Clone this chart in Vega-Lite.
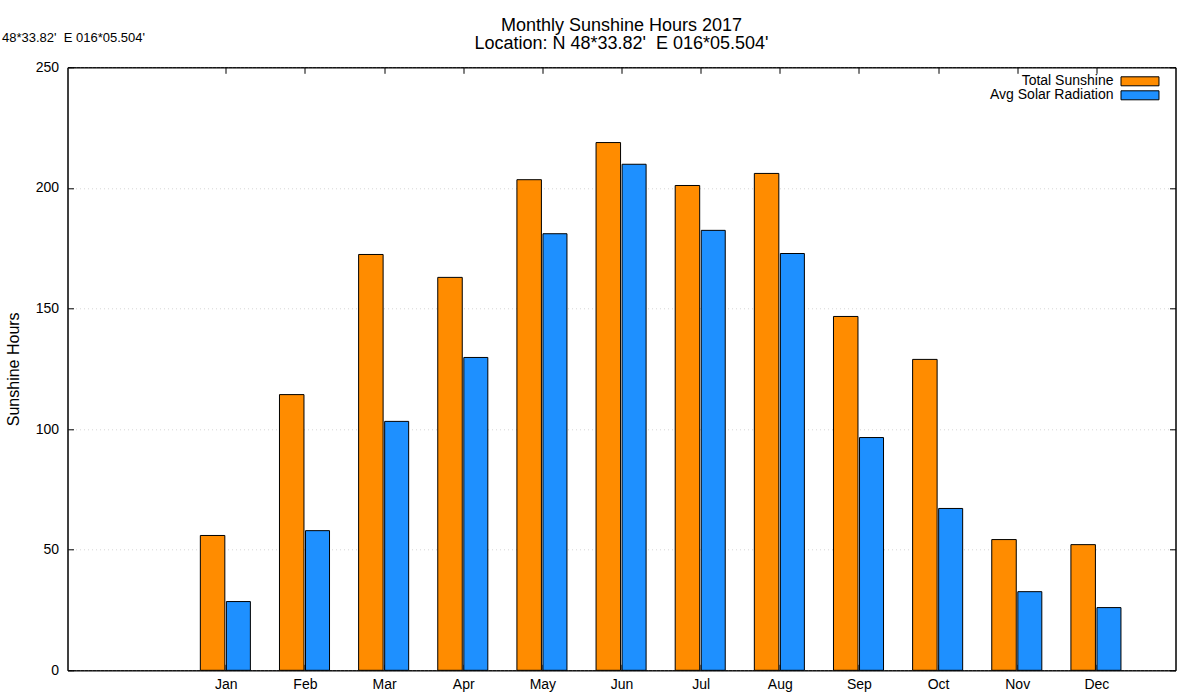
{
  "$schema": "https://vega.github.io/schema/vega-lite/v6.json",
  "width": 1108,
  "height": 603,
  "autosize": {"type": "none"},
  "padding": {"left": 67.5, "top": 67.3, "right": 24.5, "bottom": 29.7},
  "background": "white",
  "config": {
    "font": "Liberation Sans",
    "view": {"stroke": "black", "strokeWidth": 1},
    "axis": {
      "domainColor": "black",
      "tickColor": "black",
      "labelColor": "black",
      "titleColor": "black",
      "labelFontSize": 14,
      "titleFontSize": 16,
      "titleFontWeight": "normal",
      "tickSize": -6,
      "labelFlush": false,
      "labelOverlap": false
    }
  },
  "title": {
    "text": ["Monthly Sunshine Hours 2017", "Location: N 48*33.82'\u00a0 E 016*05.504'"],
    "fontSize": 18,
    "lineHeight": 18,
    "fontWeight": "normal",
    "color": "black",
    "anchor": "middle",
    "frame": "group",
    "dy": 25.5
  },
  "data": {
    "values": [
      {"month": 1, "series": "Total Sunshine", "hours": 55.9},
      {"month": 2, "series": "Total Sunshine", "hours": 114.3},
      {"month": 3, "series": "Total Sunshine", "hours": 172.4},
      {"month": 4, "series": "Total Sunshine", "hours": 162.9},
      {"month": 5, "series": "Total Sunshine", "hours": 203.4},
      {"month": 6, "series": "Total Sunshine", "hours": 218.8},
      {"month": 7, "series": "Total Sunshine", "hours": 201.0},
      {"month": 8, "series": "Total Sunshine", "hours": 206.0},
      {"month": 9, "series": "Total Sunshine", "hours": 146.7},
      {"month": 10, "series": "Total Sunshine", "hours": 128.9},
      {"month": 11, "series": "Total Sunshine", "hours": 54.2},
      {"month": 12, "series": "Total Sunshine", "hours": 52.1},
      {"month": 1, "series": "Avg Solar Radiation", "hours": 28.5},
      {"month": 2, "series": "Avg Solar Radiation", "hours": 57.9},
      {"month": 3, "series": "Avg Solar Radiation", "hours": 103.2},
      {"month": 4, "series": "Avg Solar Radiation", "hours": 129.7},
      {"month": 5, "series": "Avg Solar Radiation", "hours": 181.0},
      {"month": 6, "series": "Avg Solar Radiation", "hours": 209.8},
      {"month": 7, "series": "Avg Solar Radiation", "hours": 182.4},
      {"month": 8, "series": "Avg Solar Radiation", "hours": 172.8},
      {"month": 9, "series": "Avg Solar Radiation", "hours": 96.5},
      {"month": 10, "series": "Avg Solar Radiation", "hours": 67.1},
      {"month": 11, "series": "Avg Solar Radiation", "hours": 32.6},
      {"month": 12, "series": "Avg Solar Radiation", "hours": 26.0}
    ]
  },
  "resolve": {"axis": {"x": "independent", "y": "independent"}},
  "layer": [
    {
      "transform": [{"filter": "datum.series === 'Total Sunshine'"}],
      "mark": {"type": "bar", "width": 24.5, "xOffset": -13.2, "stroke": "black", "strokeWidth": 1},
      "encoding": {
        "x": {
          "field": "month", "type": "quantitative",
          "scale": {"domain": [-1, 13], "nice": false, "zero": false, "padding": 0},
          "axis": {
            "orient": "bottom",
            "values": [1, 2, 3, 4, 5, 6, 7, 8, 9, 10, 11, 12],
            "labelExpr": "['Jan','Feb','Mar','Apr','May','Jun','Jul','Aug','Sep','Oct','Nov','Dec'][datum.value - 1]",
            "grid": false,
            "title": null,
            "labelPadding": 13
          }
        },
        "y": {
          "field": "hours", "type": "quantitative",
          "scale": {"domain": [0, 250], "nice": false},
          "axis": {
            "orient": "left",
            "values": [0, 50, 100, 150, 200, 250],
            "grid": true,
            "gridColor": "#d6d6d6",
            "gridDash": [1, 3],
            "title": "Sunshine Hours",
            "labelPadding": 15,
            "titlePadding": 14
          }
        },
        "color": {
          "field": "series", "type": "nominal",
          "scale": {"domain": ["Total Sunshine", "Avg Solar Radiation"], "range": ["#ff8c00", "#1e90ff"]},
          "legend": {
            "orient": "none",
            "legendX": 1051,
            "legendY": 7,
            "title": null,
            "labelAlign": "right",
            "labelOffset": -19,
            "labelFontSize": 14,
            "labelColor": "black",
            "symbolType": "M-1,-1H7.44V1H-1Z",
            "symbolSize": 81,
            "symbolStrokeColor": "black",
            "symbolStrokeWidth": 1,
            "symbolOpacity": 1,
            "rowPadding": 0
          }
        }
      }
    },
    {
      "transform": [{"filter": "datum.series === 'Avg Solar Radiation'"}],
      "mark": {"type": "bar", "width": 24, "xOffset": 12.6, "stroke": "black", "strokeWidth": 1},
      "encoding": {
        "x": {
          "field": "month", "type": "quantitative",
          "scale": {"domain": [-1, 13], "nice": false, "zero": false, "padding": 0},
          "axis": {
            "orient": "top",
            "values": [1, 2, 3, 4, 5, 6, 7, 8, 9, 10, 11, 12],
            "labels": false,
            "grid": false,
            "title": "48*33.82'\u00a0 E 016*05.504'",
            "titleFontSize": 13,
            "titleAngle": 0,
            "titleAlign": "left",
            "titleBaseline": "alphabetic",
            "titleX": -66,
            "titleY": -26
          }
        },
        "y": {
          "field": "hours", "type": "quantitative",
          "scale": {"domain": [0, 250], "nice": false},
          "axis": {
            "orient": "right",
            "values": [0, 50, 100, 150, 200, 250],
            "labels": false,
            "grid": false,
            "title": null
          }
        },
        "color": {"field": "series", "type": "nominal"}
      }
    }
  ]
}
